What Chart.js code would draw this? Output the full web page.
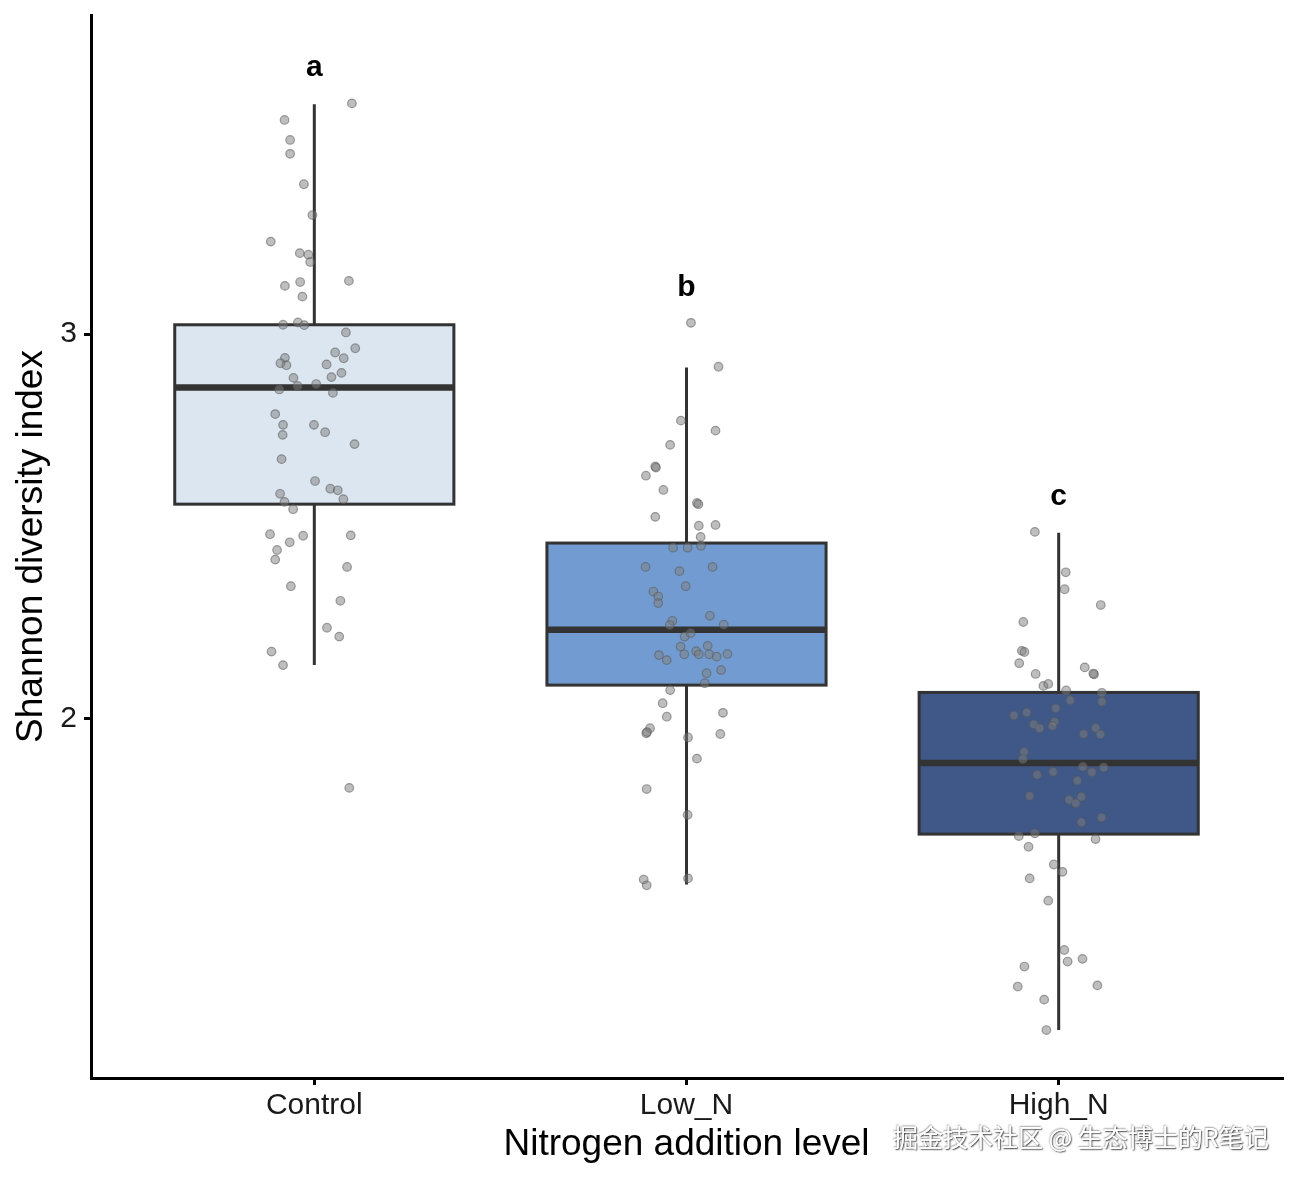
<!DOCTYPE html>
<html>
<head>
<meta charset="utf-8">
<script src="https://cdn.jsdelivr.net/npm/chart.js@4"></script>
<style>
  html, body { margin: 0; padding: 0; background: #fff; }
  #wrap { width: 1299px; height: 1181px; }
</style>
</head>
<body>
<div id="wrap"><canvas id="boxChart" width="1299" height="1181"></canvas></div>
<script>
// Groups and letters
const categories = ['Control', 'Low_N', 'High_N'];
const sigLetters = ['a', 'b', 'c'];
const letterY = [3.692, 3.12, 2.577];
const yTicks = [2, 3];

// Box statistics
const whiskerLow  = [2.140, 1.570, 1.192];
const q1          = [2.558, 2.088, 1.701];
const medians     = [2.861, 2.232, 1.886];
const q3          = [3.024, 2.457, 2.069];
const whiskerHigh = [3.597, 2.913, 2.484];
const boxFill = ['#dbe6f0', '#729cd1', '#3f5888'];

// Jittered observations (value, horizontal offset from group centre)
const controlValues = [3.599, 3.556, 3.504, 3.468, 3.389, 3.309, 3.240, 3.210, 3.206, 3.187,
  3.138, 3.125, 3.135, 3.097, 3.024, 3.030, 3.023, 3.004, 2.963, 2.952,
  2.937, 2.938, 2.924, 2.919, 2.921, 2.888, 2.899, 2.886, 2.865, 2.870,
  2.856, 2.847, 2.792, 2.764, 2.764, 2.745, 2.738, 2.714, 2.675, 2.618,
  2.598, 2.594, 2.585, 2.571, 2.564, 2.545, 2.480, 2.476, 2.477, 2.459,
  2.439, 2.414, 2.395, 2.345, 2.307, 2.237, 2.214, 2.175, 2.140, 1.821];
const controlJitter = [0.101, -0.080, -0.065, -0.065, -0.028, -0.005, -0.117, -0.039, -0.016, -0.011,
  0.093, -0.079, -0.038, -0.032, -0.084, -0.044, -0.027, 0.085, 0.110, 0.056,
  0.079, -0.079, -0.091, -0.075, 0.033, 0.046, 0.073, -0.056, -0.045, 0.005,
  -0.094, 0.050, -0.105, -0.084, -0.001, 0.029, -0.085, 0.108, -0.088, 0.002,
  0.043, 0.063, -0.092, 0.078, -0.080, -0.057, -0.119, -0.030, 0.098, -0.066,
  -0.100, -0.105, 0.088, -0.063, 0.070, 0.034, 0.067, -0.115, -0.084, 0.094];

const lowValues = [3.029, 2.915, 2.775, 2.749, 2.712, 2.656, 2.653, 2.632, 2.595, 2.561,
  2.558, 2.525, 2.502, 2.504, 2.473, 2.445, 2.445, 2.450, 2.395, 2.384,
  2.395, 2.345, 2.331, 2.318, 2.301, 2.268, 2.255, 2.244, 2.245, 2.214,
  2.223, 2.188, 2.166, 2.153, 2.168, 2.176, 2.168, 2.190, 2.168, 2.162,
  2.169, 2.119, 2.127, 2.093, 2.075, 2.041, 2.016, 2.006, 1.976, 1.963,
  1.966, 1.961, 1.952, 1.897, 1.818, 1.751, 1.583, 1.568, 1.586];
const lowJitter = [0.012, 0.086, -0.015, 0.078, -0.044, -0.084, -0.082, -0.109, -0.062, 0.028,
  0.032, -0.084, 0.033, 0.078, 0.038, -0.036, 0.003, 0.039, -0.110, -0.019,
  0.070, -0.002, -0.089, -0.076, -0.076, 0.063, -0.038, -0.045, 0.100, -0.005,
  0.011, -0.016, -0.074, -0.053, -0.006, 0.026, 0.033, 0.057, 0.061, 0.081,
  0.110, 0.054, 0.093, 0.049, -0.044, -0.064, 0.098, -0.053, -0.098, -0.108,
  -0.106, 0.091, 0.004, 0.028, -0.107, 0.003, -0.115, -0.107, 0.004];

const highValues = [2.486, 2.381, 2.337, 2.296, 2.252, 2.177, 2.174, 2.145, 2.134, 2.116,
  2.118, 2.117, 2.086, 2.091, 2.074, 2.068, 2.049, 2.045, 2.028, 2.009,
  2.017, 1.986, 1.976, 1.993, 1.982, 1.961, 1.977, 1.960, 1.915, 1.896,
  1.876, 1.862, 1.874, 1.863, 1.855, 1.840, 1.800, 1.790, 1.781, 1.798,
  1.744, 1.732, 1.696, 1.703, 1.688, 1.668, 1.622, 1.603, 1.586, 1.528,
  1.400, 1.370, 1.377, 1.357, 1.305, 1.308, 1.271, 1.192];
const highJitter = [-0.064, 0.019, 0.016, 0.113, -0.095, -0.099, -0.092, -0.106, 0.070, 0.095,
  0.093, -0.062, -0.041, -0.028, 0.020, 0.116, 0.031, 0.116, -0.008, -0.120,
  -0.086, -0.067, -0.051, -0.011, -0.017, 0.067, 0.099, 0.112, -0.093, -0.096,
  0.065, 0.089, 0.121, -0.015, -0.058, 0.050, -0.078, 0.028, 0.046, 0.061,
  0.115, 0.061, -0.107, -0.064, 0.099, -0.081, -0.013, 0.010, -0.078, -0.028,
  0.015, 0.024, 0.064, -0.092, -0.110, 0.104, -0.039, -0.033];

const groupValues = [controlValues, lowValues, highValues];
const groupJitter = [controlJitter, lowJitter, highJitter];
const boxHalfWidth = 0.375;

const fontFamily = '"Liberation Sans", Arial, Helvetica, sans-serif';
const watermark = '掘金技术社区 @ 生态博士的R笔记';

/**
 * Draws the boxes (whiskers, box, median) from the scales, under the points
 */
const boxPlugin = {
    id: 'boxes',
    beforeDatasetsDraw(chart) {
        const ctx = chart.ctx;
        const xs = chart.scales.x;
        const ys = chart.scales.y;
        ctx.save();
        ctx.strokeStyle = '#333333';
        for (let i = 0; i < categories.length; i++) {
            const cx = xs.getPixelForValue(i);
            const left = xs.getPixelForValue(i - boxHalfWidth);
            const right = xs.getPixelForValue(i + boxHalfWidth);
            const top = ys.getPixelForValue(q3[i]);
            const bottom = ys.getPixelForValue(q1[i]);

            // whiskers
            ctx.lineWidth = 3;
            ctx.beginPath();
            ctx.moveTo(cx, ys.getPixelForValue(whiskerHigh[i]));
            ctx.lineTo(cx, top);
            ctx.moveTo(cx, bottom);
            ctx.lineTo(cx, ys.getPixelForValue(whiskerLow[i]));
            ctx.stroke();

            // box
            ctx.fillStyle = boxFill[i];
            ctx.fillRect(left, top, right - left, bottom - top);
            ctx.strokeRect(left, top, right - left, bottom - top);

            // median
            ctx.lineWidth = 6.5;
            ctx.beginPath();
            ctx.moveTo(left, ys.getPixelForValue(medians[i]));
            ctx.lineTo(right, ys.getPixelForValue(medians[i]));
            ctx.stroke();
        }
        ctx.restore();
    },
    afterDatasetsDraw(chart) {
        const ctx = chart.ctx;
        const xs = chart.scales.x;
        const ys = chart.scales.y;
        ctx.save();
        ctx.fillStyle = '#000';
        ctx.font = 'bold 30px ' + fontFamily;
        ctx.textAlign = 'center';
        ctx.textBaseline = 'middle';
        for (let i = 0; i < sigLetters.length; i++) {
            ctx.fillText(sigLetters[i], xs.getPixelForValue(i), ys.getPixelForValue(letterY[i]));
        }
        ctx.restore();
    },
    afterDraw(chart) {
        // site watermark
        const ctx = chart.ctx;
        ctx.save();
        ctx.font = '25px "Noto Sans CJK SC"';
        ctx.textAlign = 'left';
        ctx.textBaseline = 'middle';
        ctx.shadowColor = 'rgba(0,0,0,0.75)';
        ctx.shadowBlur = 1.5;
        ctx.shadowOffsetX = 1;
        ctx.shadowOffsetY = 1;
        ctx.fillStyle = '#ffffff';
        ctx.fillText(watermark, 893, 1137);
        ctx.shadowOffsetX = -0.5;
        ctx.shadowOffsetY = -0.5;
        ctx.shadowColor = 'rgba(0,0,0,0.35)';
        ctx.fillText(watermark, 893, 1137);
        ctx.restore();
    }
};

const datasets = categories.map((name, i) => ({
    label: name,
    data: groupValues[i].map((v, k) => ({ x: i + groupJitter[i][k], y: v })),
    pointRadius: 4.3,
    pointHoverRadius: 4.3,
    backgroundColor: 'rgba(125,125,125,0.5)',
    borderColor: 'rgba(90,90,90,0.55)',
    borderWidth: 1.2
}));

new Chart(document.getElementById('boxChart'), {
    type: 'scatter',
    data: { datasets: datasets },
    options: {
        responsive: false,
        animation: false,
        devicePixelRatio: 1,
        layout: { padding: { left: 0, right: 17, top: 15, bottom: 0 } },
        plugins: {
            legend: { display: false },
            tooltip: { enabled: false }
        },
        scales: {
            x: {
                type: 'linear',
                min: -0.6,
                max: 2.6,
                afterBuildTicks: s => { s.ticks = categories.map((c, i) => ({ value: i })); },
                afterFit: s => { s.height = 103; s.paddingLeft = 0; s.paddingRight = 0; },
                ticks: {
                    callback: v => categories[v],
                    color: '#1a1a1a',
                    font: { family: fontFamily, size: 30 },
                    padding: 3,
                    maxRotation: 0
                },
                grid: { drawOnChartArea: false, drawTicks: true, tickLength: 7, color: '#000', lineWidth: 3 },
                border: { color: '#000', width: 3 },
                title: {
                    display: true,
                    text: 'Nitrogen addition level',
                    color: '#000',
                    font: { family: fontFamily, size: 37 },
                    padding: { top: 0, bottom: 14 }
                }
            },
            y: {
                type: 'linear',
                min: 1.0675,
                max: 3.8286,
                afterBuildTicks: s => { s.ticks = yTicks.map(v => ({ value: v })); },
                afterFit: s => { s.width = 91; s.paddingTop = 0; s.paddingBottom = 0; },
                ticks: {
                    color: '#1a1a1a',
                    font: { family: fontFamily, size: 30 },
                    padding: 7
                },
                grid: { drawOnChartArea: false, drawTicks: true, tickLength: 7, color: '#000', lineWidth: 3 },
                border: { color: '#000', width: 3 },
                title: {
                    display: true,
                    text: 'Shannon diversity index',
                    color: '#000',
                    font: { family: fontFamily, size: 37 },
                    padding: { top: 10, bottom: 0 }
                }
            }
        }
    },
    plugins: [boxPlugin]
});
</script>
</body>
</html>
